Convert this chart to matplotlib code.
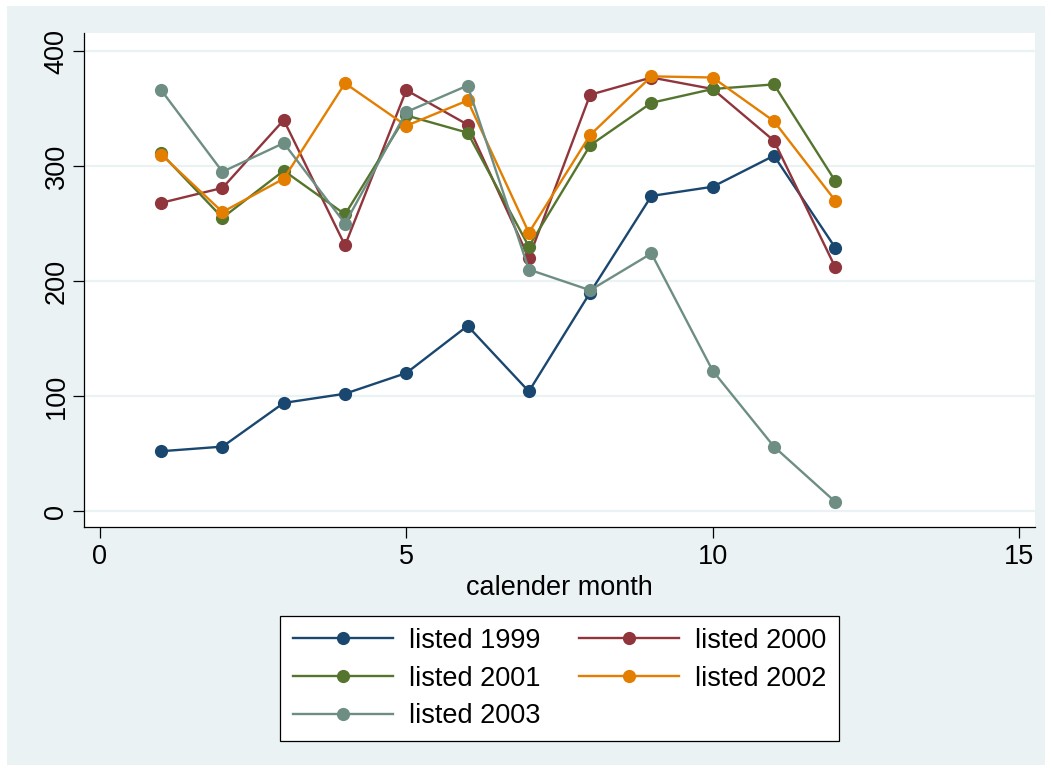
import matplotlib
matplotlib.use("Agg")
import matplotlib.pyplot as plt
from matplotlib.patches import Rectangle

plt.rcParams['font.family'] = ['Liberation Sans', 'DejaVu Sans']

months = [1, 2, 3, 4, 5, 6, 7, 8, 9, 10, 11, 12]
listed_1999 = [52, 56, 94, 102, 120, 161, 104, 190, 274, 282, 309, 229]
listed_2000 = [268, 281, 340, 231, 366, 336, 220, 362, 377, 367, 322, 212]
listed_2001 = [311, 255, 296, 258, 344, 329, 230, 318, 355, 367, 371, 287]
listed_2002 = [310, 260, 289, 372, 335, 357, 242, 327, 378, 377, 339, 270]
listed_2003 = [366, 295, 320, 250, 347, 370, 210, 192, 224, 122, 56, 8]

series_labels = ['listed 1999', 'listed 2000', 'listed 2001', 'listed 2002', 'listed 2003']
series_values = [listed_1999, listed_2000, listed_2001, listed_2002, listed_2003]
series_colors = ['#1a476f', '#90353b', '#55752f', '#e37e00', '#6e8e84']

x_ticks = [0, 5, 10, 15]
y_ticks = [0, 100, 200, 300, 400]

W, H = 1051, 771
fig = plt.figure(figsize=(W / 100, H / 100), dpi=100, facecolor='white')

# light outer panel behind everything
fig.patches.append(Rectangle((7 / W, 6 / H), (1045 - 7) / W, (765 - 6) / H,
                             transform=fig.transFigure, facecolor='#eaf2f3',
                             edgecolor='none', zorder=-10))

left, right, top, bottom = 84, 1035, 33, 527
ax = fig.add_axes([left / W, 1 - bottom / H, (right - left) / W, (bottom - top) / H])
ax.set_zorder(1)
ax.set_facecolor('white')

handles = []
for vals, lab, col in zip(series_values, series_labels, series_colors):
    h, = ax.plot(months, vals, color=col, lw=1.7, marker='o', markersize=9.5,
                 markeredgewidth=0, label=lab, zorder=3)
    handles.append(h)

ax.set_xlim(-0.26, 15.26)
ax.set_ylim(-13.9, 415.7)
ax.set_xticks(x_ticks)
ax.set_yticks(y_ticks)
ax.grid(axis='y', color='#eaf2f3', lw=1.6, zorder=0)
ax.set_axisbelow(True)

for s in ['top', 'right']:
    ax.spines[s].set_visible(False)
for s in ['left', 'bottom']:
    ax.spines[s].set_color('black')
    ax.spines[s].set_linewidth(0.9)

ax.tick_params(axis='both', direction='out', length=8, width=0.9, colors='black',
               labelsize=19.5)
ax.tick_params(axis='x', pad=4.5)
ax.tick_params(axis='y', pad=2.5)
for lbl in ax.get_yticklabels():
    lbl.set_rotation(90)
    lbl.set_va('center')
ax.set_xlabel('calender month', fontsize=19.5, labelpad=3)

# row-wise legend order: 1999, 2000 / 2001, 2002 / 2003
order = [0, 2, 4, 1, 3]
leg = fig.legend(handles=[handles[i] for i in order],
                 labels=[series_labels[i] for i in order], ncol=2,
                 loc='center', bbox_to_anchor=(559.5 / W, 1 - 678.5 / H),
                 fontsize=19.5, frameon=True, fancybox=False, edgecolor='black',
                 framealpha=1, handlelength=3.7, handletextpad=0.6, columnspacing=1.4,
                 labelspacing=0.43, borderpad=0.45, borderaxespad=0)
leg.get_frame().set_linewidth(0.9)
leg.get_frame().set_facecolor('white')
leg.set_zorder(2)

fig.savefig('out.png', dpi=100, facecolor='white')
